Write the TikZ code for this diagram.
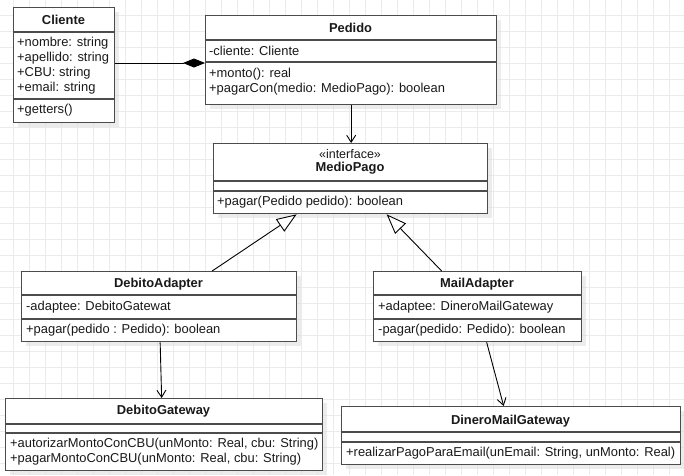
\documentclass[tikz,border=0pt]{standalone}
\usepackage{fontspec}
\setmainfont{Liberation Sans}
\usetikzlibrary{arrows.meta,shadows}

\tikzset{
  gridline/.style={draw=black!8, line width=0.8pt},
  classbox/.style={draw=black!70, line width=1.3pt, fill=white, anchor=north west, inner sep=0pt,
    drop shadow={shadow xshift=4pt, shadow yshift=-4pt, fill=black!14, opacity=.5}},
  divider/.style={draw=black!70, line width=1.3pt},
  classname/.style={font=\fontsize{12.9}{14.8}\selectfont\bfseries, text=black!90, inner sep=0pt},
  stereo/.style={font=\fontsize{12.5}{14}\selectfont, text=black!90, inner sep=0pt},
  members/.style={font=\fontsize{12.9}{14.8}\selectfont, text=black!90, align=left, anchor=west, inner sep=0pt},
  assoc/.style={draw=black, line width=0.9pt, -{Straight Barb[length=7pt,width=9pt]}},
  realiza/.style={draw=black, line width=0.9pt, -{Triangle[open, fill=white, length=20pt, width=15pt]}},
  compo/.style={draw=black, line width=0.9pt, -{Diamond[length=22pt, width=9pt]}}
}

\begin{document}
\begin{tikzpicture}[x=1pt, y=-1pt]
  \useasboundingbox (0,0) rectangle (684,475);
  \fill[white] (0,0) rectangle (684,475);
  % background grid
  \foreach \gx in {13,29,...,684} \draw[gridline] (\gx,0) -- (\gx,475);
  \foreach \gy in {15,31,...,475} \draw[gridline] (0,\gy) -- (684,\gy);

  % Cliente
  \node[classbox, minimum width=101pt, minimum height=115pt] (cli) at (13,7) {};
  \draw[divider] (cli.west |- 0,32) -- (cli.east |- 0,32);
  \draw[divider] (cli.west |- 0,99) -- (cli.east |- 0,99);
  \node[classname] (cliT) at (63.5,19.5) {Cliente};
  \node[members] (cliA) at (17,65.5) {+nombre: string\\+apellido: string\\+CBU: string\\+email: string};
  \node[members] (cliM) at (17,110.5) {+getters()};

  % Pedido
  \node[classbox, minimum width=291pt, minimum height=89pt] (ped) at (205,15) {};
  \draw[divider] (ped.west |- 0,40) -- (ped.east |- 0,40);
  \draw[divider] (ped.west |- 0,62) -- (ped.east |- 0,62);
  \node[classname] (pedT) at (350.5,27.5) {Pedido};
  \node[members] (pedA) at (209,51) {-cliente: Cliente};
  \node[members] (pedM) at (209,81.5) {+monto(): real\\+pagarCon(medio: MedioPago): boolean};

  % MedioPago
  \node[classbox, minimum width=274pt, minimum height=70pt] (med) at (213,143) {};
  \draw[divider] (med.west |- 0,181) -- (med.east |- 0,181);
  \draw[divider] (med.west |- 0,191) -- (med.east |- 0,191);
  \node[stereo] (medS) at (350,154) {«interface»};
  \node[classname] (medT) at (350,168.5) {MedioPago};
  \node[members] (medM) at (217,202) {+pagar(Pedido pedido): boolean};

  % DebitoAdapter
  \node[classbox, minimum width=275pt, minimum height=70pt] (deb) at (21,271) {};
  \draw[divider] (deb.west |- 0,295) -- (deb.east |- 0,295);
  \draw[divider] (deb.west |- 0,319) -- (deb.east |- 0,319);
  \node[classname] (debT) at (158.5,284) {DebitoAdapter};
  \node[members] (debA) at (26,307) {-adaptee: DebitoGatewat};
  \node[members] (debM) at (26,330) {+pagar(pedido : Pedido): boolean};

  % MailAdapter
  \node[classbox, minimum width=208pt, minimum height=70pt] (mail) at (373,271) {};
  \draw[divider] (mail.west |- 0,295) -- (mail.east |- 0,295);
  \draw[divider] (mail.west |- 0,319) -- (mail.east |- 0,319);
  \node[classname] (mailT) at (477,284) {MailAdapter};
  \node[members] (mailA) at (378,307) {+adaptee: DineroMailGateway};
  \node[members] (mailM) at (378,330) {-pagar(pedido: Pedido): boolean};

  % DebitoGateway
  \node[classbox, minimum width=317pt, minimum height=72pt] (dgw) at (5,398) {};
  \draw[divider] (dgw.west |- 0,424) -- (dgw.east |- 0,424);
  \draw[divider] (dgw.west |- 0,433) -- (dgw.east |- 0,433);
  \node[classname] (dgwT) at (163.5,411.5) {DebitoGateway};
  \node[members] (dgwM) at (10,451.5) {+autorizarMontoConCBU(unMonto: Real, cbu: String)\\+pagarMontoConCBU(unMonto: Real, cbu: String)};

  % DineroMailGateway
  \node[classbox, minimum width=339pt, minimum height=58pt] (dmg) at (341,406) {};
  \draw[divider] (dmg.west |- 0,432) -- (dmg.east |- 0,432);
  \draw[divider] (dmg.west |- 0,442) -- (dmg.east |- 0,442);
  \node[classname] (dmgT) at (510.5,421) {DineroMailGateway};
  \node[members] (dmgM) at (346,453.5) {+realizarPagoParaEmail(unEmail: String, unMonto: Real)};

  % connectors
  \draw[compo] (cli.east |- 0,63) -- (ped.west |- 0,63);
  \draw[assoc] (ped.south) -- (ped.south |- med.north);
  \draw[realiza] ([xshift=53pt]deb.north) -- ([xshift=-54pt]med.south);
  \draw[realiza] ([xshift=-36pt]mail.north) -- ([xshift=36pt]med.south);
  \draw[assoc] ([xshift=1pt]deb.south) -- ([xshift=-2.5pt]dgw.north);
  \draw[assoc] ([xshift=9pt]mail.south) -- ([xshift=-7.5pt]dmg.north);
\end{tikzpicture}
\end{document}
